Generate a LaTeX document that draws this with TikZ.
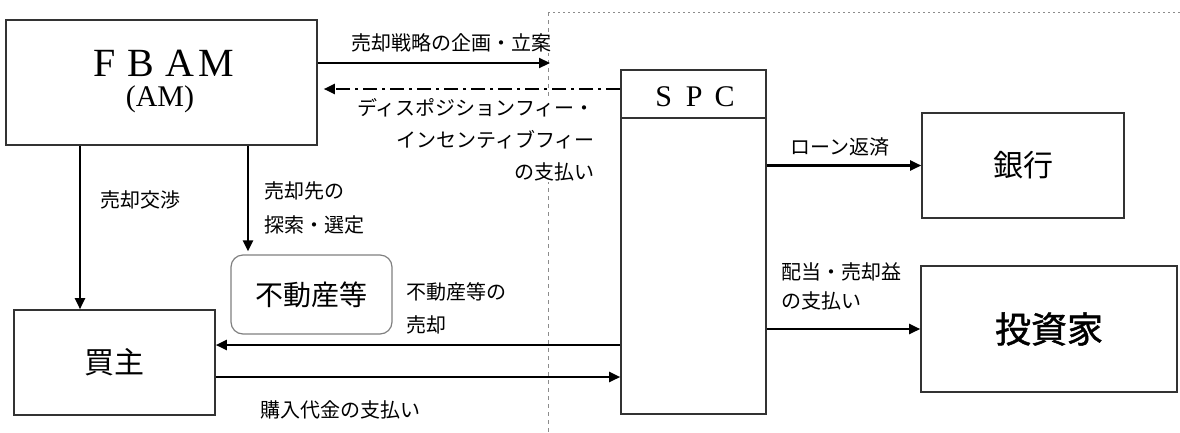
\documentclass[tikz,border=0pt]{standalone}
\usepackage{fontspec}
\setmainfont{Liberation Serif}
\newfontfamily\jp{Noto Sans CJK JP}
\newfontfamily\jpheavy[FakeBold=1.2]{Noto Sans CJK JP}
\usetikzlibrary{arrows.meta}
\begin{document}
\begin{tikzpicture}[x=1pt,y=-1pt,
  box/.style={draw=black!80, line width=1.6pt, rectangle, inner sep=0pt},
  conn/.style={line width=2.2pt, -{Triangle[length=11pt,width=10pt]}},
  lbl/.style={font=\jp\fontsize{20}{24}\selectfont, inner sep=1pt},
  big/.style={font=\jp\fontsize{30}{30}\selectfont},
  guide/.style={draw=black!45, line width=1pt, dash pattern=on 4pt off 4pt},
]
\useasboundingbox (0,0) rectangle (1180,432);

% guide lines
\coordinate (gtop) at (548,12);
\coordinate (gbot) at (548,432);
\coordinate (gright) at (1180,12);
\draw[guide] (gtop) -- (gbot);
\draw[draw=black!45, line width=1pt, dash pattern=on 2pt off 3pt] (gtop) -- (gright);

% boxes
\node[box, minimum width=311pt, minimum height=125pt] (fbam) at (161.5,82.5) {};
\node[inner sep=0pt] (fbamt) at (164,63.5) {\fontsize{40}{40}\selectfont F\hspace{11pt}B\hspace{12pt}A\hspace{4pt}M};
\node[inner sep=0pt] (amt) at (160,99.5) {\fontsize{30}{30}\selectfont (AM)};

\node[box, minimum width=145pt, minimum height=344pt] (spc) at (693.5,242) {};
\draw[draw=black!80, line width=1.6pt] (spc.west |- 0,118) -- (spc.east |- 0,118);
\node[inner sep=0pt] (spct) at (695,97) {\fontsize{30}{30}\selectfont S\hspace{14pt}P\hspace{12pt}C};

\node[box, minimum width=202pt, minimum height=105pt, big] (bank) at (1023,165.5) {銀行};
\node[box, minimum width=256pt, minimum height=126pt, font=\jpheavy\fontsize{36}{36}\selectfont] (inv) at (1049,329) {投資家};
\node[box, minimum width=201pt, minimum height=105pt, big] (buyer) at (114.5,362.5) {買主};
\node[draw=black!50, line width=1.2pt, rounded corners=12pt, minimum width=161pt, minimum height=79pt, inner sep=0pt, font=\jp\fontsize{28}{28}\selectfont] (prop) at (311.5,294.5) {不動産等};

% connectors
\coordinate (tipA) at (550,63);
\draw[conn] (fbam.east |- 0,63) -- (tipA);
\draw[conn, dash pattern=on 14pt off 5pt on 3pt off 5pt, shorten >=6pt] (spc.west |- 0,89) -- (fbam.east |- 0,89);
\draw[conn] (fbam.south -| 80,0) -- (buyer.north -| 80,0);
\draw[conn, shorten >=3pt] (fbam.south -| 248,0) -- (prop.north -| 248,0);
\draw[conn] (spc.west |- 0,345) -- (buyer.east |- 0,345);
\draw[conn] (buyer.east |- 0,377) -- (spc.west |- 0,377);
\draw[conn] (spc.east |- bank.west) -- (bank.west);
\draw[conn] (spc.east |- inv.west) -- (inv.west);

% labels
\node[lbl, fill=white] (l1) at (451,43) {売却戦略の企画・立案};
\node[lbl, fill=white, align=right, anchor=east, font=\jp\fontsize{20}{32}\selectfont] (l2) at (596,140) {ディスポジションフィー・\\インセンティブフィー\\の支払い};
\node[lbl] (l3) at (140,200) {売却交渉};
\node[lbl, align=left, anchor=west, font=\jp\fontsize{20}{34}\selectfont] (l4) at (263,208) {売却先の\\探索・選定};
\node[lbl, align=left, anchor=west, font=\jp\fontsize{20}{33}\selectfont] (l5) at (405,308) {不動産等の\\売却};
\node[lbl] (l6) at (340,410) {購入代金の支払い};
\node[lbl] (l7) at (840,147) {ローン返済};
\node[lbl, align=left, anchor=west, font=\jp\fontsize{20}{29}\selectfont] (l8) at (780,286) {配当・売却益\\の支払い};
\end{tikzpicture}
\end{document}
